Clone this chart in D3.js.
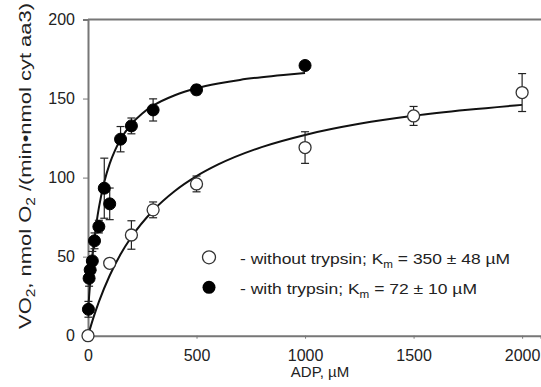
<!DOCTYPE html>
<html><head><meta charset="utf-8">
<script src="https://cdn.jsdelivr.net/npm/d3@7"></script>
<style>body{margin:0;background:#fff}svg{display:block}text{font-family:"Liberation Sans",Arial,sans-serif;fill:#222}</style>
</head><body>
<svg id="c" width="541" height="387"></svg>
<script>
// ADP concentrations (µM) and VO2 values
const adpWithout = [0, 100, 200, 300, 500, 1000, 1500, 2000];
const vo2Without = [0, 45.8, 63.7, 79.6, 96, 119, 139, 153.8];
const errWithout = [0, 0, 9, 5, 5, 10, 6, 12];

const adpWith = [2, 5, 10, 20, 30, 50, 75, 100, 150, 200, 300, 500, 1000];
const vo2With = [16.7, 36.3, 41.6, 47.3, 60, 69, 93.3, 83.4, 124.3, 132.7, 142.8, 155.5, 170.9];
const errWith = [5, 5, 5, 6, 5, 4, 19, 10, 8, 5, 7, 3, 0];

// fitted curves
const fitWithoutX = [0, 25, 50, 100, 150, 200, 300, 400, 500, 600, 800, 1000, 1250, 1500, 1750, 2000];
const fitWithoutY = [0, 11.4, 21.4, 38.1, 51.5, 62.4, 79.2, 91.5, 100.9, 108.3, 119.3, 127.0, 134.0, 139.1, 142.9, 146.0];
const fitWithX = [0, 5, 10, 20, 30, 40, 50, 75, 100, 125, 150, 200, 250, 300, 400, 500, 600, 700, 800, 900, 1000];
const fitWithY = [14, 24.6, 33.9, 49.4, 61.9, 72.2, 80.8, 97.2, 108.8, 117.4, 124.1, 133.9, 140.6, 145.5, 152.1, 156.5, 159.5, 161.8, 163.5, 164.9, 166.1];

const xTicks = [0, 500, 1000, 1500, 2000];
const yTicks = [0, 50, 100, 150, 200];

const svg = d3.select("#c");
const x = d3.scaleLinear().domain([0, 2087]).range([88, 541]);
const y = d3.scaleLinear().domain([0, 200]).range([335.7, 19.5]);
const axisColor = "#777";

// frame: top line
svg.append("line").attr("x1", 88).attr("x2", 541).attr("y1", y(200)).attr("y2", y(200))
  .attr("stroke", axisColor).attr("stroke-width", 2);

const gx = svg.append("g").attr("transform", `translate(0,${y(0)})`)
  .call(d3.axisBottom(x).tickValues(xTicks).tickSize(3).tickPadding(11).tickFormat(d3.format("d")));
gx.select(".domain").attr("stroke", axisColor).attr("stroke-width", 2);
gx.selectAll(".tick line").attr("stroke", axisColor);
gx.selectAll(".tick text").attr("font-size", 16).attr("font-family", "Liberation Sans").attr("fill", "#222");

const gy = svg.append("g").attr("transform", `translate(${x(0)},0)`)
  .call(d3.axisLeft(y).tickValues(yTicks).tickSize(5).tickPadding(8));
gy.select(".domain").attr("stroke", axisColor).attr("stroke-width", 2);
gy.selectAll(".tick line").attr("stroke", axisColor);
gy.selectAll(".tick text").attr("font-size", 16).attr("font-family", "Liberation Sans").attr("fill", "#222");

// axis titles
svg.append("text").attr("x", 320).attr("y", 376.5).attr("text-anchor", "middle").attr("font-size", 15).text("ADP, µM");

const yl = svg.append("text").attr("transform", "translate(31,166) rotate(-90)").attr("text-anchor", "middle")
  .attr("font-size", 17).attr("textLength", 326).attr("lengthAdjust", "spacingAndGlyphs");
yl.append("tspan").text("VO");
yl.append("tspan").attr("font-size", 12).attr("dy", 4).text("2");
yl.append("tspan").attr("dy", -4).text(", nmol O");
yl.append("tspan").attr("font-size", 12).attr("dy", 4).text("2");
yl.append("tspan").attr("dy", -4).text(" /(min•nmol cyt aa3)");

// curves
const line = d3.line().x(d => x(d[0])).y(d => y(d[1])).curve(d3.curveMonotoneX);
svg.append("path").datum(d3.zip(fitWithoutX, fitWithoutY)).attr("d", line)
  .attr("fill", "none").attr("stroke", "#111").attr("stroke-width", 2);
svg.append("path").datum(d3.zip(fitWithX, fitWithY)).attr("d", line)
  .attr("fill", "none").attr("stroke", "#111").attr("stroke-width", 2);

// error bars
function errorBars(xs, ys, es) {
  const g = svg.append("g").attr("stroke", "#222").attr("stroke-width", 1.2);
  xs.forEach((v, i) => {
    if (!es[i]) return;
    const cx = x(v), t = y(ys[i] + es[i]), b = y(ys[i] - es[i]);
    g.append("line").attr("x1", cx).attr("x2", cx).attr("y1", t).attr("y2", b);
    g.append("line").attr("x1", cx - 4).attr("x2", cx + 4).attr("y1", t).attr("y2", t);
    g.append("line").attr("x1", cx - 4).attr("x2", cx + 4).attr("y1", b).attr("y2", b);
  });
}
errorBars(adpWithout, vo2Without, errWithout);
errorBars(adpWith, vo2With, errWith);

// markers
svg.append("g").selectAll("circle").data(d3.zip(adpWithout, vo2Without)).join("circle")
  .attr("cx", d => x(d[0])).attr("cy", d => y(d[1])).attr("r", 6)
  .attr("fill", "#fff").attr("stroke", "#333").attr("stroke-width", 1.3);
svg.append("g").selectAll("circle").data(d3.zip(adpWith, vo2With)).join("circle")
  .attr("cx", d => x(d[0])).attr("cy", d => y(d[1])).attr("r", 6)
  .attr("fill", "#000").attr("stroke", "#000").attr("stroke-width", 1);

// legend
svg.append("circle").attr("cx", 209).attr("cy", 257.3).attr("r", 6.5).attr("fill", "#fff").attr("stroke", "#333").attr("stroke-width", 1.3);
svg.append("circle").attr("cx", 209).attr("cy", 287.3).attr("r", 6.5).attr("fill", "#000");
function legendText(yy, pre, post, len) {
  const t = svg.append("text").attr("x", 240).attr("y", yy).attr("font-size", 15)
    .attr("textLength", len).attr("lengthAdjust", "spacingAndGlyphs");
  t.append("tspan").text(pre);
  t.append("tspan").attr("font-size", 10).attr("dy", 4).text("m");
  t.append("tspan").attr("dy", -4).text(post);
}
legendText(264, "- without trypsin; K", " = 350 ± 48 µM", 270);
legendText(294, "- with trypsin; K", " = 72 ± 10 µM", 237);
</script>
</body></html>
